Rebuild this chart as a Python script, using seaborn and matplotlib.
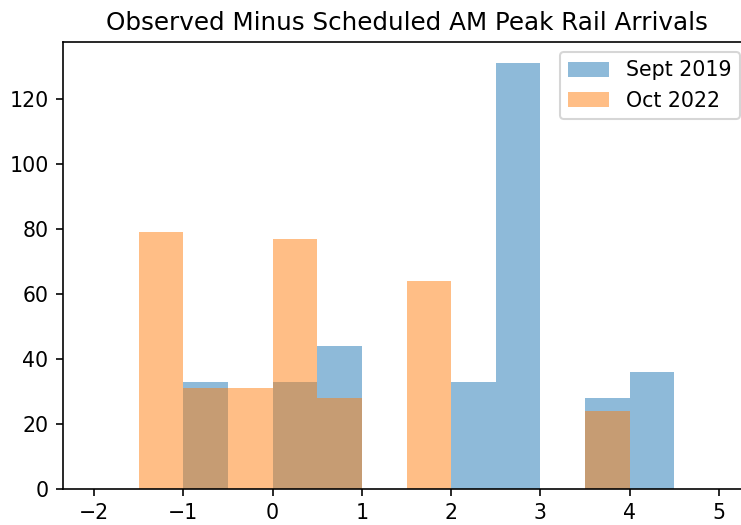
import numpy as np
import pandas as pd
import matplotlib
matplotlib.use("Agg")
import matplotlib.pyplot as plt
import seaborn as sns

# histogram bins (minutes early/late), width 0.5
bin_edges = [-2.0, -1.5, -1.0, -0.5, 0.0, 0.5, 1.0, 1.5, 2.0, 2.5, 3.0, 3.5, 4.0, 4.5, 5.0]

# counts per bin
sept_2019 = [0, 0, 33, 0, 33, 44, 0, 0, 33, 131, 0, 28, 36, 0]
oct_2022 = [0, 79, 31, 31, 77, 28, 0, 64, 0, 0, 0, 24, 0, 0]

edges = np.array(bin_edges)
centers = (edges[:-1] + edges[1:]) / 2
df_2019 = pd.DataFrame({'delay': centers, 'count': sept_2019})
df_2022 = pd.DataFrame({'delay': centers, 'count': oct_2022})

dpi = 148
fig = plt.figure(figsize=(741 / dpi, 525 / dpi), dpi=dpi)
ax = fig.add_axes([63 / 741, 36 / 525, 687 / 741, 447 / 525])

sns.histplot(data=df_2019, x='delay', weights='count', bins=bin_edges, color='tab:blue',
             alpha=0.5, linewidth=0, label='Sept 2019', ax=ax)
sns.histplot(data=df_2022, x='delay', weights='count', bins=bin_edges, color='tab:orange',
             alpha=0.5, linewidth=0, label='Oct 2022', ax=ax)

ax.set_xlim(-2.35, 5.35)
ax.set_ylim(0, 131 * 1.05)
ax.set_xlabel('')
ax.set_ylabel('')
ax.set_title('Observed Minus Scheduled AM Peak Rail Arrivals')
ax.legend(loc='upper right')

fig.savefig('out.png', dpi=dpi)
